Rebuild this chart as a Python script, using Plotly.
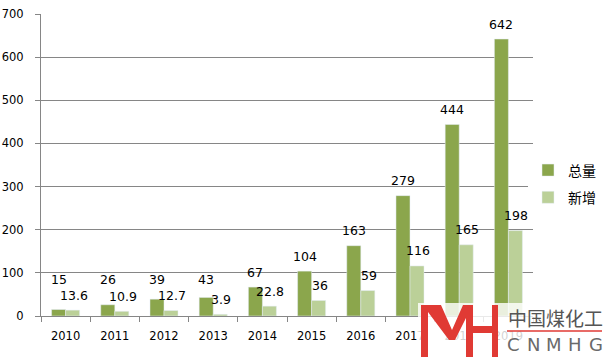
import plotly.graph_objects as go

years = ["2010", "2011", "2012", "2013", "2014", "2015", "2016", "2017", "2018", "2019"]
total = [15, 26, 39, 43, 67, 104, 163, 279, 444, 642]
added = [13.6, 10.9, 12.7, 3.9, 22.8, 36, 59, 116, 165, 198]
total_name = "总量"
added_name = "新增"
y_ticks = [0, 100, 200, 300, 400, 500, 600, 700]

c_total = "#8ba64c"
c_added = "#bbd098"
font_main = "DejaVu Sans"

W, H = 607, 362
PL, PR, PT, PB = 41, 533, 14, 316   # plot area in pixels
def px(x):
    return x / W
def py(y):
    return (H - y) / H

fig = go.Figure()
fig.add_trace(go.Bar(x=years, y=total, name=total_name, marker_color=c_total,
                     legendgroup="a"))
fig.add_trace(go.Bar(x=years, y=added, name=added_name, marker_color=c_added,
                     legendgroup="b"))

ann = []
for i, v in enumerate(total):
    ann.append(dict(x=i, y=max(v, 51), xref="x", yref="y", text=str(v), showarrow=False,
                    xshift=-7, yshift=15, font=dict(size=12.5, color="black", family=font_main)))
for i, v in enumerate(added):
    ann.append(dict(x=i, y=v, xref="x", yref="y", text=str(v), showarrow=False,
                    xshift=8, yshift=15, font=dict(size=12.5, color="black", family=font_main)))

shapes = []
shapes.append(dict(type="rect", xref="paper", yref="paper", x0=px(418), x1=px(607),
                   y0=py(362), y1=py(303), fillcolor="rgba(255,255,255,0.82)",
                   line=dict(width=0), layer="above"))
red = "#e03a34"
pts = [(421, 305), (441, 305), (452, 330), (463, 305), (473, 305), (473, 326), (492, 326),
       (492, 305), (498, 305), (498, 357), (492, 357), (492, 333), (473, 333), (473, 357),
       (466, 357), (466, 318), (455, 340), (449, 340), (428, 312), (428, 357), (421, 357)]
path = "M " + " L ".join(f"{px(x):.5f},{py(y):.5f}" for x, y in pts) + " Z"
shapes.append(dict(type="path", xref="paper", yref="paper", path=path,
                   fillcolor=red, line=dict(width=0), layer="above"))
shapes.append(dict(type="line", xref="paper", yref="paper", x0=px(507), x1=px(602),
                   y0=py(331), y1=py(331), line=dict(color=red, width=1.5), layer="above"))

ann.append(dict(x=px(555), y=py(317), xref="paper", yref="paper", text="中国煤化工",
                xanchor="center", yanchor="middle", showarrow=False,
                font=dict(size=19, family="Noto Sans CJK SC", color="#555555")))
for i, ch in enumerate("CNMHG"):
    ann.append(dict(x=px(513 + i * 20.7), y=py(344), xref="paper", yref="paper", text=ch,
                    xanchor="center", yanchor="middle", showarrow=False,
                    font=dict(size=18, family="DejaVu Sans", color="#6a6a6a")))

fig.update_layout(
    width=W, height=H,
    margin=dict(l=0, r=0, t=0, b=0, autoexpand=False),
    paper_bgcolor="white", plot_bgcolor="white",
    barmode="group", bargap=0.43, bargroupgap=0,
    font=dict(family=font_main, size=11, color="black"),
    legend=dict(x=px(528), y=py(184), xanchor="left", yanchor="middle",
                font=dict(size=14, family="Noto Sans CJK SC", color="black"),
                tracegroupgap=6, traceorder="grouped", itemwidth=30),
    showlegend=True,
    annotations=ann, shapes=shapes,
)
fig.update_xaxes(type="category", range=[-0.5, len(years) - 0.5], domain=[px(PL), px(PR)],
                 showline=True, linecolor="#868686", linewidth=1,
                 ticks="outside", tickson="boundaries", ticklen=5, tickcolor="#868686",
                 showgrid=False, tickangle=0, ticklabelstandoff=9,
                 tickfont=dict(size=11.5, family=font_main))
fig.update_yaxes(range=[0, 700], tickvals=y_ticks, domain=[py(PB), py(PT)],
                 showline=True, linecolor="#868686",
                 linewidth=1, ticks="outside", ticklen=5, tickcolor="#868686",
                 showgrid=True, gridcolor="#868686", gridwidth=1, zeroline=False,
                 ticklabelstandoff=9, tickfont=dict(size=11.5, family=font_main))

fig.write_html("out.html", config={"displayModeBar": False},
               post_script="document.body.style.margin='0';")
